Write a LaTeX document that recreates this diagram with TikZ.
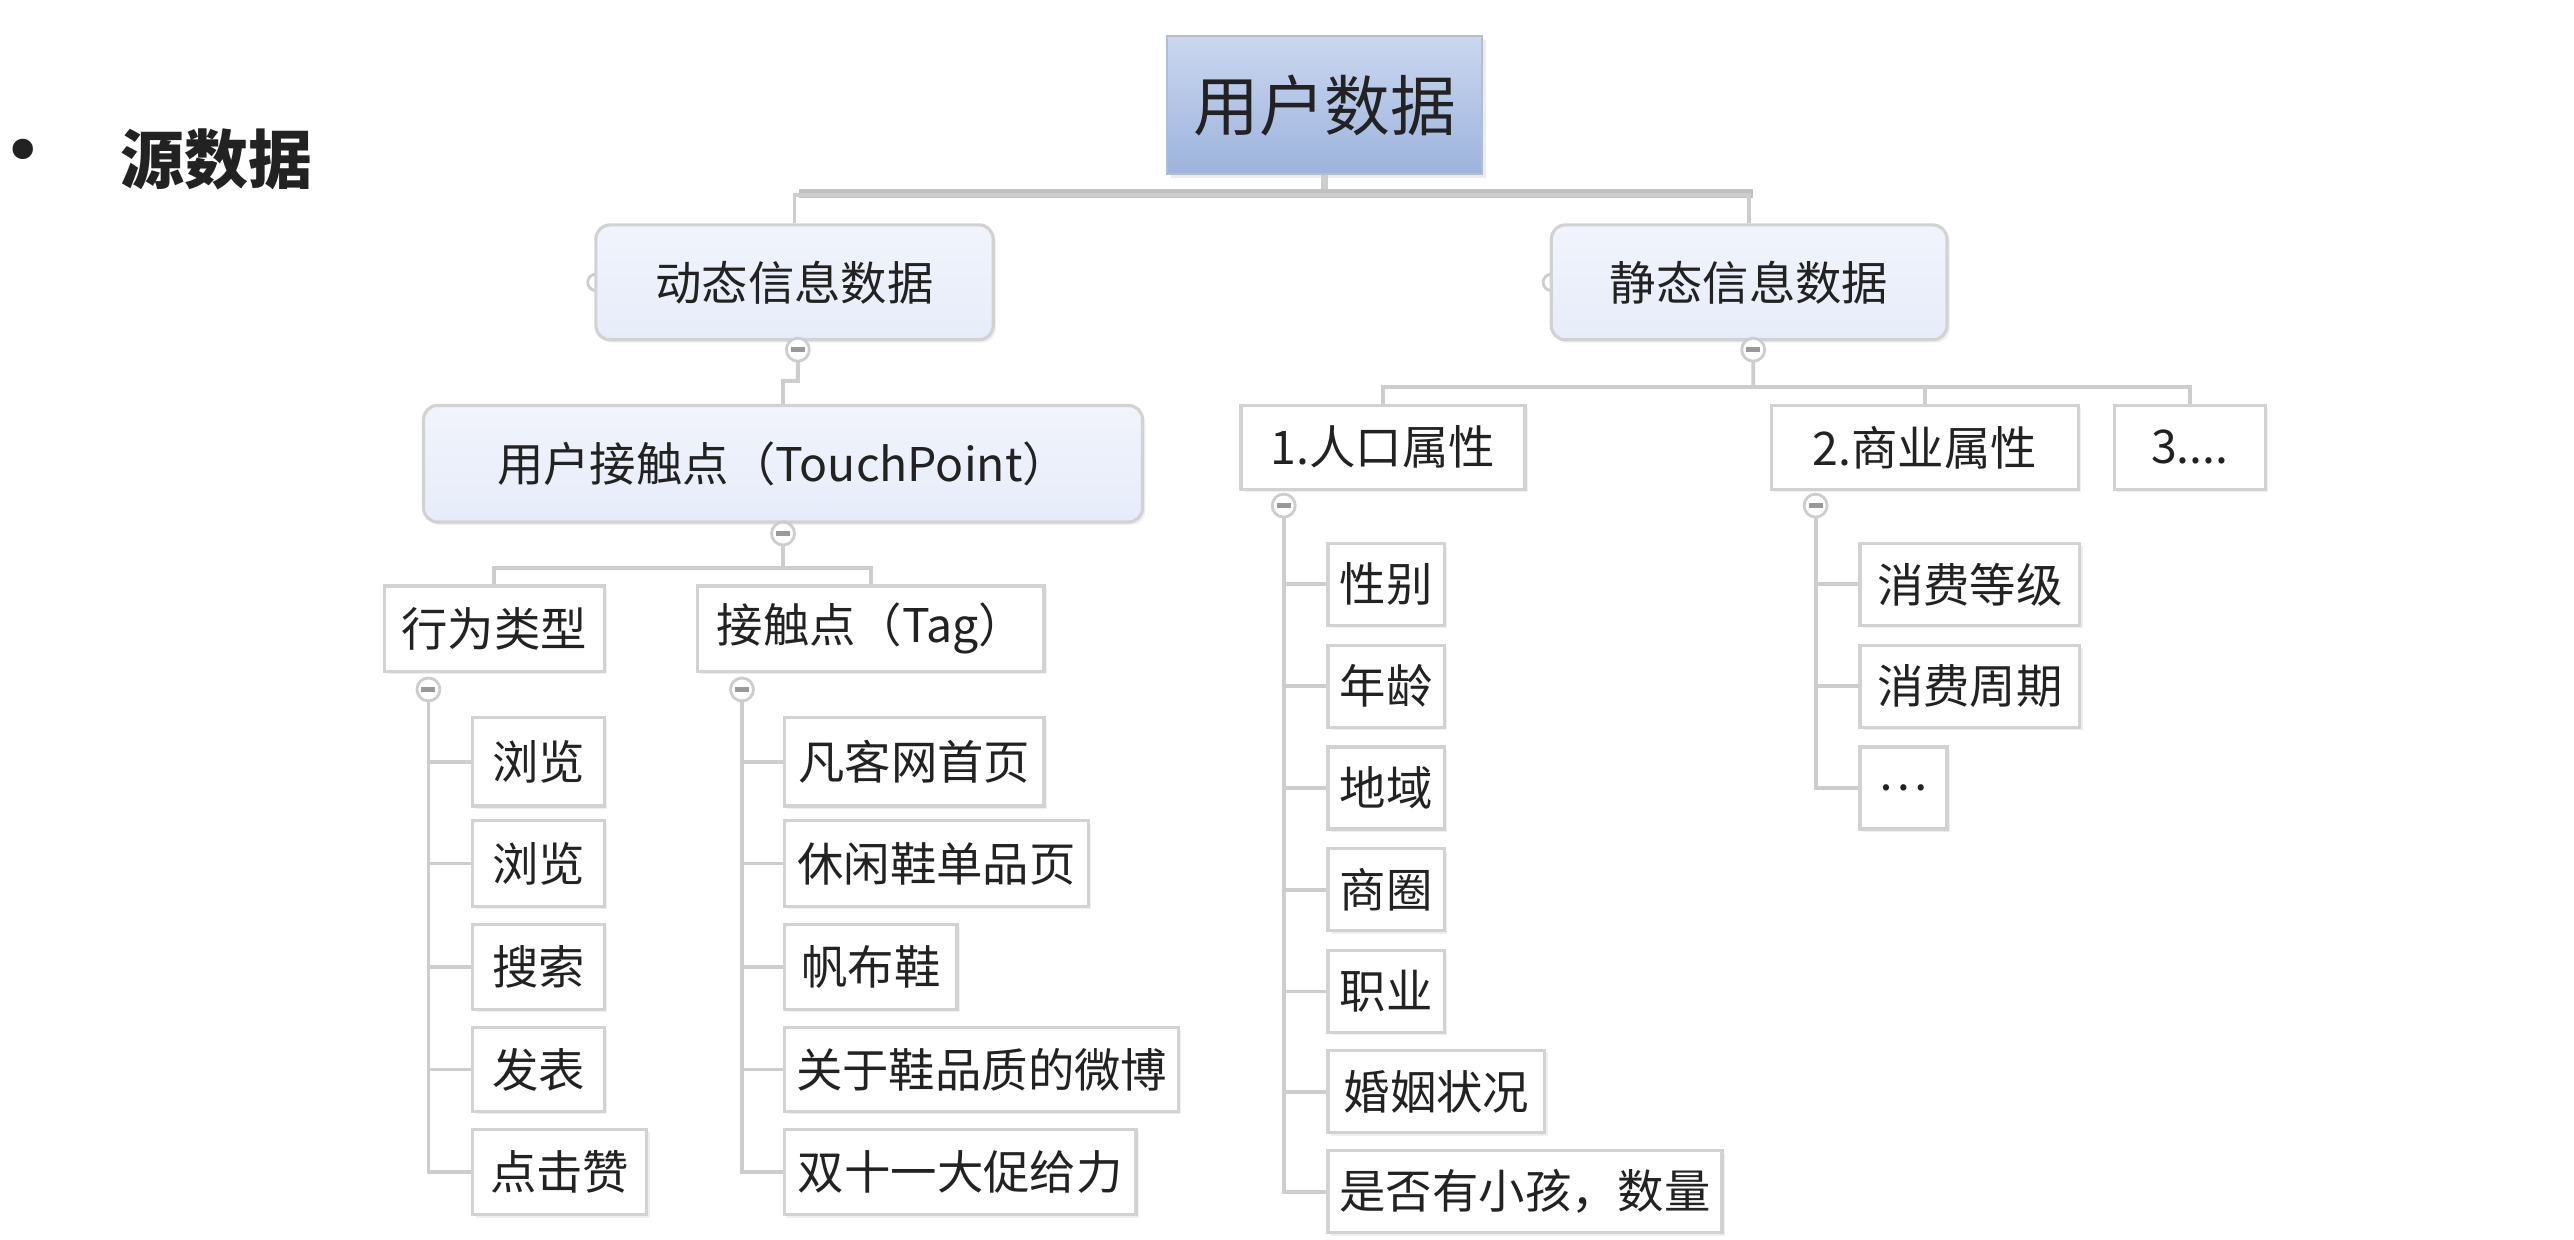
\documentclass[tikz,border=0pt]{standalone}
\usepackage{fontspec}
\setmainfont{Noto Sans CJK SC}
\newfontfamily\dejavu{DejaVu Sans}
\usetikzlibrary{shadows,calc}
\definecolor{txt}{HTML}{222222}
\definecolor{lnc}{HTML}{CDCDCD}
\definecolor{bdr}{HTML}{D2D2D2}
\definecolor{blt}{HTML}{F1F4FC}
\definecolor{blb}{HTML}{E6ECF9}
\definecolor{rtt}{HTML}{CAD7EF}
\definecolor{rtb}{HTML}{9DB3DD}
\newcommand\mmbox[7]{\node[#6, minimum width={(#4-#2)*0.016416cm}, minimum height={(#5-#3)*0.016416cm}] (#1) at ({(#2+#4)/2},{(#3+#5)/2}) {#7};}
\tikzset{
  base/.style={inner sep=0pt, text=txt, font=\fontsize{13.2pt}{15pt}\selectfont},
  leaf/.style={base, draw=bdr, line width=0.9pt, fill=white, drop shadow={opacity=0.12, shadow xshift=0.8pt, shadow yshift=-0.8pt}},
  topic/.style={base, draw=bdr, line width=0.9pt, rounded corners=4pt, top color=blt, bottom color=blb, drop shadow={opacity=0.12, shadow xshift=0.8pt, shadow yshift=-0.8pt}},
  rootbox/.style={inner sep=0pt, text=txt, font=\fontsize{18.7pt}{22pt}\selectfont, draw=rtt!70!gray, line width=0.6pt, top color=rtt, bottom color=rtb, drop shadow={opacity=0.15, shadow xshift=1pt, shadow yshift=-1pt}},
  conn/.style={draw=lnc, line width=1.1pt},
  minusc/.style={circle, draw=lnc, fill=white, line width=0.8pt, minimum size=0.23cm, inner sep=0pt,
    path picture={\draw[gray!80, line width=1.3pt] ([xshift=-2pt]path picture bounding box.center) -- ([xshift=2pt]path picture bounding box.center);}},
  handle/.style={draw=lnc, fill=white, line width=0.8pt}
}
\begin{document}
\begin{tikzpicture}[x=0.016416cm, y=-0.016416cm]
\useasboundingbox[fill=white] (0,0) rectangle (1568,755);

% title
\node[inner sep=0pt, text=txt, font=\dejavu\fontsize{20pt}{22pt}\selectfont] (bul) at (14,96) {•};
\node[anchor=west, inner sep=0pt, text=txt, font=\fontsize{18.2pt}{22pt}\selectfont\bfseries] (title) at (73,97) {源数据};

% side handles (drawn first, half hidden)
\draw[handle] (363,172) circle (5);
\draw[handle] (945,172) circle (5);

% nodes
\mmbox{root}{711}{22}{903}{106}{rootbox}{用户数据}
\mmbox{dyn}{363}{137}{605}{207}{topic}{动态信息数据}
\mmbox{sta}{945}{137}{1186}{207}{topic}{静态信息数据}
\mmbox{tp}{258}{247}{696}{318}{topic}{用户接触点（TouchPoint）}
\mmbox{bt}{234}{357}{368}{409}{leaf}{行为类型}
\mmbox{tag}{425}{357}{636}{409}{leaf}{接触点（Tag）}
\mmbox{b1}{288}{437}{368}{491}{leaf}{浏览}
\mmbox{b2}{288}{500}{368}{552}{leaf}{浏览}
\mmbox{b3}{288}{563}{368}{615}{leaf}{搜索}
\mmbox{b4}{288}{626}{368}{677}{leaf}{发表}
\mmbox{b5}{288}{688}{394}{740}{leaf}{点击赞}
\mmbox{t1}{478}{437}{636}{491}{leaf}{凡客网首页}
\mmbox{t2}{478}{500}{663}{552}{leaf}{休闲鞋单品页}
\mmbox{t3}{478}{563}{583}{615}{leaf}{帆布鞋}
\mmbox{t4}{478}{626}{718}{677}{leaf}{关于鞋品质的微博}
\mmbox{t5}{478}{688}{692}{740}{leaf}{双十一大促给力}
\mmbox{p1}{756}{247}{929}{298}{leaf}{1.人口属性}
\mmbox{p2}{1079}{247}{1266}{298}{leaf}{2.商业属性}
\mmbox{p3}{1288}{247}{1380}{298}{leaf}{3....}
\mmbox{q1}{809}{331}{880}{381}{leaf}{性别}
\mmbox{q2}{809}{393}{880}{443}{leaf}{年龄}
\mmbox{q3}{809}{455}{880}{505}{leaf}{地域}
\mmbox{q4}{809}{517}{880}{567}{leaf}{商圈}
\mmbox{q5}{809}{579}{880}{629}{leaf}{职业}
\mmbox{q6}{809}{640}{941}{690}{leaf}{婚姻状况}
\mmbox{q7}{809}{701}{1049}{751}{leaf}{是否有小孩，数量}
\mmbox{r1}{1133}{331}{1267}{381}{leaf}{消费等级}
\mmbox{r2}{1133}{393}{1267}{443}{leaf}{消费周期}
\mmbox{r3}{1133}{455}{1186}{505}{leaf}{…}

% minus circles (positions)
\coordinate (mdyn) at (486,213);
\coordinate (msta) at (1068,213);
\coordinate (mtp) at (477,325);
\coordinate (mbt) at (261,420);
\coordinate (mtag) at (452,420);
\coordinate (mp1) at (782,308);
\coordinate (mp2) at (1106,308);

% connectors
\draw[draw=lnc, line width=2pt] (root.south) -- ++(0,12) coordinate (rj);
\draw[draw=lnc!85!gray, line width=2.6pt] (487,118) -- (1068,118);
\draw[conn] (rj) -| (dyn.north);
\draw[conn] (rj) -| (sta.north);
\draw[conn] (dyn.south) -- (mdyn) -- ++(0,19) -| (tp.north);
\draw[conn] (tp.south) -- (mtp) -- ++(0,21) -| (bt.north);
\draw[conn] (mtp) ++(0,21) -| (tag.north);
\foreach \c in {b1,b2,b3,b4,b5} \draw[conn] (mbt) |- (\c.west);
\foreach \c in {t1,t2,t3,t4,t5} \draw[conn] (mtag) |- (\c.west);
\draw[conn] (sta.south) -- (msta) -- ++(0,23) coordinate (sj);
\draw[conn] (sj) -| (p1.north);
\draw[conn] (sj) -| (p2.north);
\draw[conn] (sj) -| (p3.north);
\foreach \c in {q1,q2,q3,q4,q5,q6,q7} \draw[conn] (mp1) |- (\c.west);
\foreach \c in {r1,r2,r3} \draw[conn] (mp2) |- (\c.west);

% minus buttons on top
\foreach \m in {mdyn,msta,mtp,mbt,mtag,mp1,mp2} \node[minusc] (n\m) at (\m) {};
\end{tikzpicture}
\end{document}
